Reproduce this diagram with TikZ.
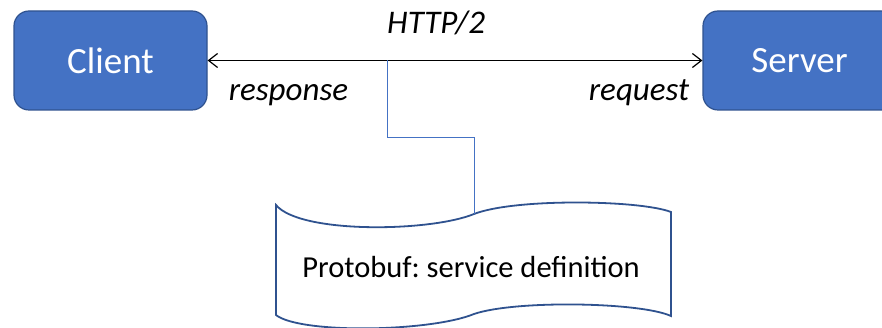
\documentclass[tikz,border=0pt]{standalone}
\usepackage{fontspec}
\setmainfont{Carlito}
\usetikzlibrary{arrows.meta,positioning}
\definecolor{boxblue}{RGB}{68,114,196}
\definecolor{edgeblue}{RGB}{47,82,143}
\frenchspacing

\begin{document}
\begin{tikzpicture}[
  x=1pt, y=-1pt,
  every node/.style={inner sep=0pt},
  party/.style={draw=edgeblue,line width=1.2pt,fill=boxblue,rounded corners=15pt,minimum width=193pt,minimum height=99pt,text=white,font=\fontsize{37}{40}\selectfont},
  tag/.style={font=\fontsize{33}{38}\selectfont\itshape},
  link/.style={draw=boxblue,line width=1pt},
  wire/.style={{Straight Barb[length=9pt,width=14pt]}-{Straight Barb[length=9pt,width=14pt]},line width=1.2pt},
  scroll/.style={draw=edgeblue,line width=1.8pt,fill=white}
]
  \useasboundingbox (0,0) rectangle (882,328);
  \clip (0,0) rectangle (882,328);
  \node[party] (client) at (110.5,60.5) {Client};
  \node[party] (server) at (799.5,60.5) {Server};
  \draw[wire] (client) -- (server);
  \coordinate (tap) at (387,60.5);
  \node[tag,anchor=base west] (proto) at ([yshift=27pt]tap) {HTTP/2};
  \node[tag,anchor=base west] (resp) at ([xshift=21pt,yshift=-40pt]client.east) {response};
  \node[tag,anchor=base east] (req) at ([xshift=-13pt,yshift=-40pt]server.west) {request};
  % wave shaped document
  \draw[scroll] (276,205) .. controls (300,234) and (430,232) .. (474,214)
    .. controls (515,198) and (640,200) .. (671,212) -- (671,316)
    .. controls (640,302) and (515,300) .. (474,314)
    .. controls (430,332) and (300,334) .. (276,315) -- cycle;
  \coordinate (docTop) at (474,214);
  \node[font=\fontsize{30.5}{34}\selectfont,anchor=base] (spec) at (471,277) {Protobuf: service definition};
  \draw[link] (tap) -- ++(0,77) -| (docTop);
\end{tikzpicture}
\end{document}
